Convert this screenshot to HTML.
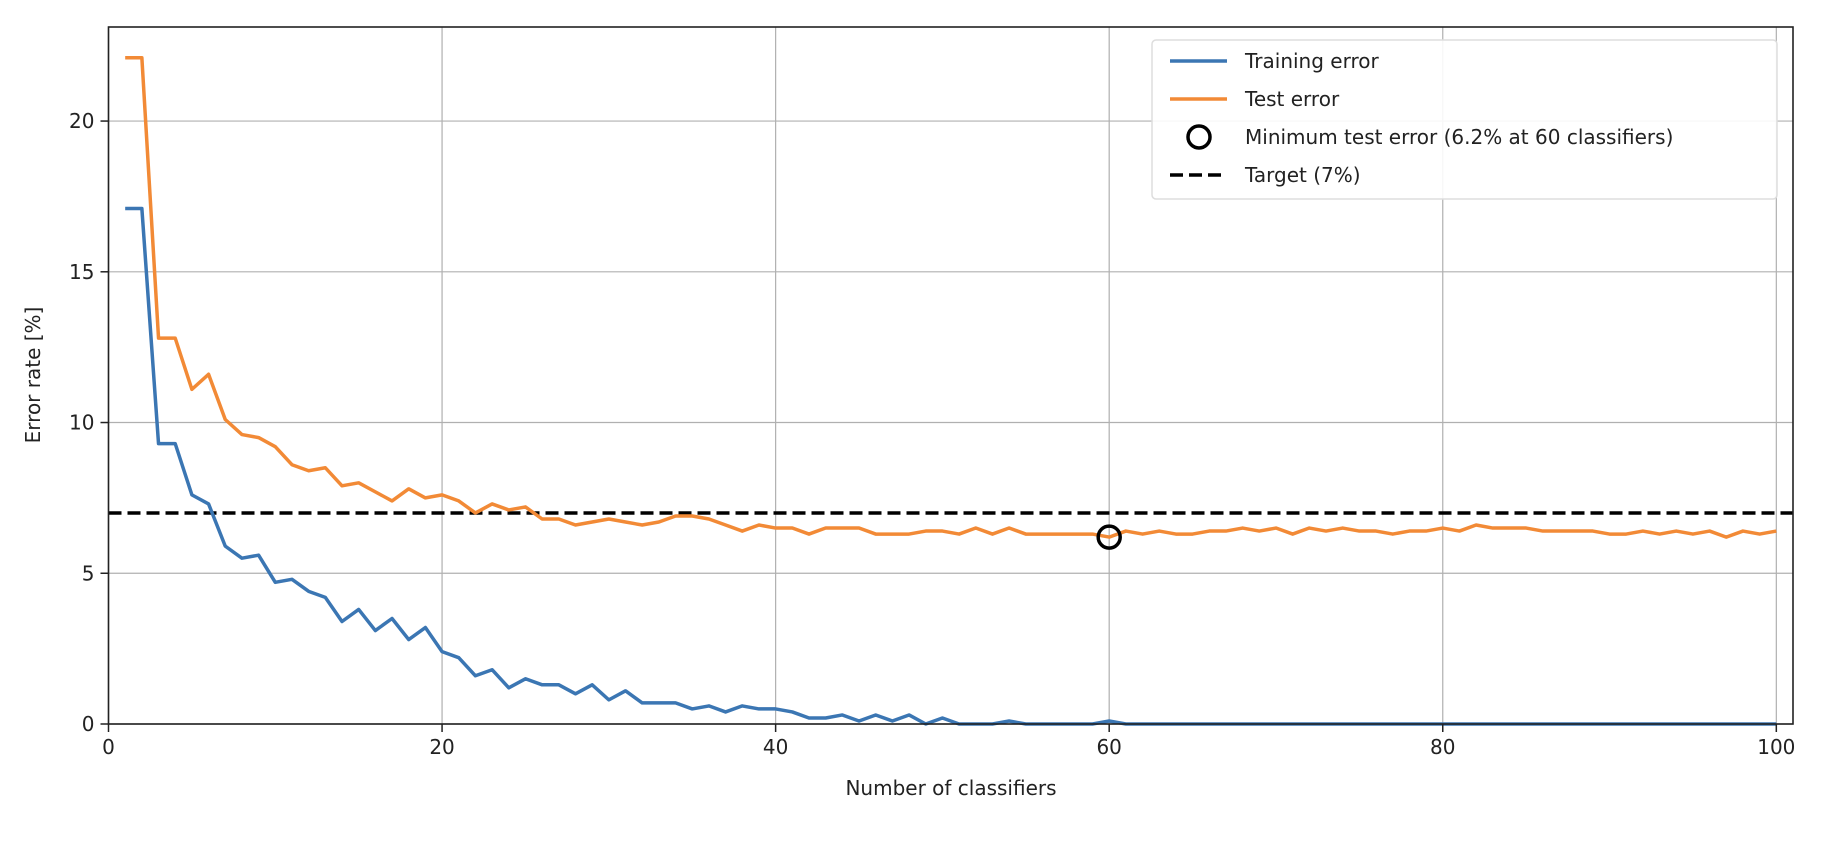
<!DOCTYPE html>
<html><head><meta charset="utf-8"><style>
html,body{margin:0;padding:0;background:#fff;}
svg text{font-family:"DejaVu Sans","Liberation Sans",sans-serif;fill:#222;}
</style></head><body>
<svg id="chart" width="1836" height="836" xmlns="http://www.w3.org/2000/svg">
<rect width="1836" height="836" fill="#fff"/>
<g id="grid"></g>
<g id="target"></g>
<g id="series"></g>
<rect x="108.5" y="27" width="1684.5" height="697" fill="none" stroke="#222" stroke-width="1.6"/>
<g id="ticks"></g>
<text x="951" y="795" font-size="20" text-anchor="middle">Number of classifiers</text>
<text x="40" y="375" font-size="20" text-anchor="middle" transform="rotate(-90 40 375)">Error rate [%]</text>
<g id="legend">
<rect x="1152" y="40" width="625" height="159" rx="4" fill="#fff" fill-opacity="0.9" stroke="#ddd" stroke-width="1.5"/>
<g><line x1="1170" y1="61" x2="1227" y2="61" stroke="#3b76b3" stroke-width="3.5"/><text x="1245" y="68" font-size="20">Training error</text></g>
<g><line x1="1170" y1="99" x2="1227" y2="99" stroke="#f28a36" stroke-width="3.5"/><text x="1245" y="106" font-size="20">Test error</text></g>
<g><circle cx="1199" cy="137" r="11" fill="none" stroke="#000" stroke-width="3.5"/><text x="1245" y="144" font-size="20">Minimum test error (6.2% at 60 classifiers)</text></g>
<g><line x1="1170" y1="175" x2="1227" y2="175" stroke="#000" stroke-width="3.5" stroke-dasharray="13,6"/><text x="1245" y="182" font-size="20">Target (7%)</text></g>
</g>
</svg>
<script>
const trainErr=[17.1,17.1,9.3,9.3,7.6,7.3,5.9,5.5,5.6,4.7,4.8,4.4,4.2,3.4,3.8,3.1,3.5,2.8,3.2,2.4,2.2,1.6,1.8,1.2,1.5,1.3,1.3,1.0,1.3,0.8,1.1,0.7,0.7,0.7,0.5,0.6,0.4,0.6,0.5,0.5,0.4,0.2,0.2,0.3,0.1,0.3,0.1,0.3,0.0,0.2,0,0,0,0.1,0,0,0,0,0,0.1,0,0,0,0,0,0,0,0,0,0,0,0,0,0,0,0,0,0,0,0,0,0,0,0,0,0,0,0,0,0,0,0,0,0,0,0,0,0,0,0];
const testErr=[22.1,22.1,12.8,12.8,11.1,11.6,10.1,9.6,9.5,9.2,8.6,8.4,8.5,7.9,8.0,7.7,7.4,7.8,7.5,7.6,7.4,7.0,7.3,7.1,7.2,6.8,6.8,6.6,6.7,6.8,6.7,6.6,6.7,6.9,6.9,6.8,6.6,6.4,6.6,6.5,6.5,6.3,6.5,6.5,6.5,6.3,6.3,6.3,6.4,6.4,6.3,6.5,6.3,6.5,6.3,6.3,6.3,6.3,6.3,6.2,6.4,6.3,6.4,6.3,6.3,6.4,6.4,6.5,6.4,6.5,6.3,6.5,6.4,6.5,6.4,6.4,6.3,6.4,6.4,6.5,6.4,6.6,6.5,6.5,6.5,6.4,6.4,6.4,6.4,6.3,6.3,6.4,6.3,6.4,6.3,6.4,6.2,6.4,6.3,6.4];
const xTicks=[0,20,40,60,80,100];
const yTicks=[0,5,10,15,20];
const targetVal=7;
const minX=60, minY=6.2;
const X0=108.5,X1=1793,Y0=724,Y1=27,XMIN=0,XMAX=101,YMIN=0,YMAX=23.12;
const sx=v=>X0+(v-XMIN)/(XMAX-XMIN)*(X1-X0);
const sy=v=>Y0-(v-YMIN)/(YMAX-YMIN)*(Y0-Y1);
const NS="http://www.w3.org/2000/svg";
function mk(tag,attrs,parent){const e=document.createElementNS(NS,tag);for(const k in attrs)e.setAttribute(k,attrs[k]);parent.appendChild(e);return e;}
const grid=document.getElementById('grid'),ticks=document.getElementById('ticks'),series=document.getElementById('series');
xTicks.forEach(t=>{
 const g=mk('line',{x1:sx(t),x2:sx(t),y1:Y1,y2:Y0,stroke:'#b0b0b0','stroke-width':1.2},grid);
 
 
 const tk=mk('line',{x1:sx(t),x2:sx(t),y1:Y0,y2:Y0+8,stroke:'#222','stroke-width':1.5},ticks);
 
 
 const tx=mk('text',{x:sx(t),y:Y0+30,'font-size':20,'text-anchor':'middle'},ticks);
 tx.textContent=t;
 
 
});
yTicks.forEach(t=>{
 const g=mk('line',{x1:X0,x2:X1,y1:sy(t),y2:sy(t),stroke:'#b0b0b0','stroke-width':1.2},grid);
 
 
 const tk=mk('line',{x1:X0-8,x2:X0,y1:sy(t),y2:sy(t),stroke:'#222','stroke-width':1.5},ticks);
 
 
 const tx=mk('text',{x:X0-14,y:sy(t)+7,'font-size':20,'text-anchor':'end'},ticks);
 tx.textContent=t;
 
 
});
const tl=mk('line',{x1:X0,x2:X1,y1:sy(targetVal),y2:sy(targetVal),stroke:'#000','stroke-width':3.5,'stroke-dasharray':'13,6'},document.getElementById('target'));


function line(arr,color,name){
 const d=arr.map((v,i)=>(i?'L':'M')+sx(i+1).toFixed(2)+','+sy(v).toFixed(2)).join('');
 const p=mk('path',{d:d,fill:'none',stroke:color,'stroke-width':3.5,'stroke-linejoin':'round'},series);
 
 
}
line(trainErr,'#3b76b3','training-error-line');
line(testErr,'#f28a36','test-error-line');
const c=mk('circle',{cx:sx(minX),cy:sy(minY),r:11,fill:'none',stroke:'#000','stroke-width':3.5},series);


</script>
</body></html>
